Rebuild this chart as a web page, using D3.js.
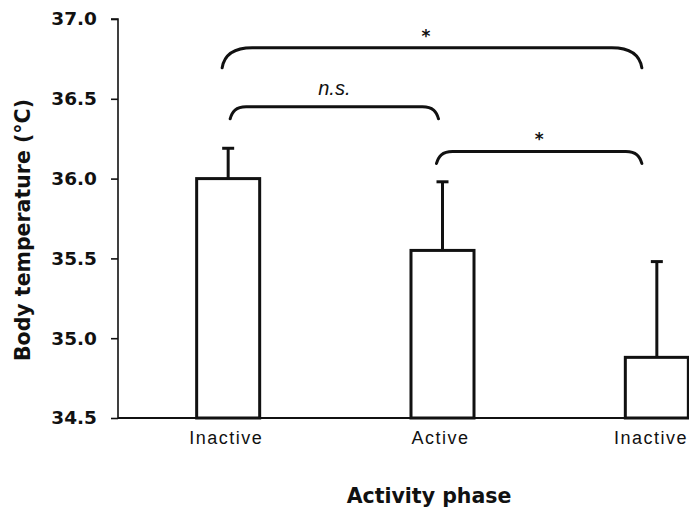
<!DOCTYPE html>
<html>
<head>
<meta charset="utf-8">
<script src="https://cdn.jsdelivr.net/npm/d3@7"></script>
<style>
  html, body { margin: 0; padding: 0; background: #fff; }
  svg { display: block; }
</style>
</head>
<body>
<svg id="chart" width="689" height="517"></svg>
<script>
// Mean body temperature per activity phase, with upward SE bars
const categories = ["Inactive", "Active", "Inactive"];
const means = [36.00, 35.55, 34.88];
const errors = [0.19, 0.43, 0.60];
const yTicks = [34.5, 35.0, 35.5, 36.0, 36.5, 37.0];

// Significance brackets: [from index, to index, line level (°C), label]
const bracketFrom = [0, 0, 1];
const bracketTo = [2, 1, 2];
const bracketLevel = [36.82, 36.45, 36.17];
const bracketLabel = ["*", "n.s.", "*"];

const svg = d3.select("#chart");
const W = 689, H = 517;
const axisX = 118;

const y = d3.scaleLinear().domain([34.5, 37.0]).range([418, 19]);
const x = d3.scaleBand()
  .domain(d3.range(categories.length))
  .range([121, 764])
  .paddingInner(0.706)
  .paddingOuter(0.353);

const bw = x.bandwidth();
const cx = i => x(i) + bw / 2;

// Y axis
const yAxis = svg.append("g")
  .attr("transform", `translate(${axisX},0)`)
  .call(d3.axisLeft(y).tickValues(yTicks).tickFormat(d3.format(".1f")).tickSize(7).tickPadding(14));
yAxis.select(".domain").attr("stroke", "#111").attr("stroke-width", 1.6).attr("d", `M-7,${y(37)}H0V${y(34.5)}`);
yAxis.selectAll(".tick line").attr("stroke", "#111").attr("stroke-width", 1.6);
yAxis.selectAll(".tick text")
  .attr("font-family", "DejaVu Sans, sans-serif")
  .attr("font-weight", "bold")
  .attr("font-size", 18.5)
  .attr("fill", "#111");

// Bars
svg.append("g").selectAll("rect")
  .data(means)
  .join("rect")
  .attr("x", (d, i) => x(i))
  .attr("y", d => y(d))
  .attr("width", bw)
  .attr("height", d => y(34.5) - y(d))
  .attr("fill", "#fff")
  .attr("stroke", "#111")
  .attr("stroke-width", 3);

// Baseline (x axis)
svg.append("line")
  .attr("x1", axisX).attr("x2", W)
  .attr("y1", y(34.5)).attr("y2", y(34.5))
  .attr("stroke", "#111").attr("stroke-width", 2);

// Error bars (upper half only)
const eb = svg.append("g").attr("stroke", "#111").attr("stroke-width", 3).attr("fill", "none");
means.forEach((m, i) => {
  eb.append("line")
    .attr("x1", cx(i)).attr("x2", cx(i))
    .attr("y1", y(m)).attr("y2", y(m + errors[i]));
  eb.append("line")
    .attr("x1", cx(i) - 6).attr("x2", cx(i) + 6)
    .attr("y1", y(m + errors[i])).attr("y2", y(m + errors[i]));
});

// Category labels (kept inside the right edge)
svg.append("g").selectAll("text")
  .data(categories)
  .join("text")
  .attr("x", (d, i) => cx(i) - 2)
  .attr("y", 444)
  .attr("text-anchor", "middle")
  .attr("font-family", "Liberation Sans, Arial, sans-serif")
  .attr("font-size", 18)
  .attr("letter-spacing", 1.5)
  .attr("fill", "#111")
  .text(d => d)
  .each(function () {
    const bb = this.getBBox();
    const over = bb.x + bb.width - (W - 1);
    if (over > 0) d3.select(this).attr("x", +d3.select(this).attr("x") - over);
  });

// Axis titles
svg.append("text")
  .attr("x", 429).attr("y", 503)
  .attr("text-anchor", "middle")
  .attr("font-family", "DejaVu Sans, sans-serif")
  .attr("font-weight", "bold")
  .attr("font-size", 20.5)
  .attr("fill", "#111")
  .text("Activity phase");

svg.append("text")
  .attr("transform", "translate(30,230) rotate(-90)")
  .attr("text-anchor", "middle")
  .attr("font-family", "DejaVu Sans, sans-serif")
  .attr("font-weight", "bold")
  .attr("font-size", 20.5)
  .attr("fill", "#111")
  .text("Body temperature (°C)");

// Significance brackets; ends sit slightly left of the last bar's centre
const bg = svg.append("g");
bracketFrom.forEach((a, k) => {
  const b = bracketTo[k];
  const big = (b - a) > 1;
  const x0 = cx(a) + (a === 0 && !big ? 2 : -6);
  const x1 = cx(b) - (b === categories.length - 1 ? 15 : 4);
  const yt = y(bracketLevel[k]);
  const drop = big ? 20 : 12;
  const r = big ? 30 : 16;
  const p = d3.path();
  p.moveTo(x0, yt + drop);
  p.bezierCurveTo(x0 + 2, yt + drop * 0.4, x0 + r * 0.35, yt, x0 + r, yt);
  p.lineTo(x1 - r, yt);
  p.bezierCurveTo(x1 - r * 0.35, yt, x1 - 2, yt + drop * 0.4, x1, yt + drop);
  bg.append("path")
    .attr("d", p.toString())
    .attr("fill", "none")
    .attr("stroke", "#111")
    .attr("stroke-width", 3)
    .attr("stroke-linecap", "round");

  const isNs = bracketLabel[k] !== "*";
  bg.append("text")
    .attr("x", (x0 + x1) / 2 + (isNs ? 0 : big ? -6 : 0))
    .attr("y", isNs ? yt - 12 : yt - 6)
    .attr("text-anchor", "middle")
    .attr("font-family", isNs ? "Liberation Sans, Arial, sans-serif" : "DejaVu Sans, sans-serif")
    .attr("font-style", isNs ? "italic" : "normal")
    .attr("font-weight", isNs ? "normal" : "bold")
    .attr("font-size", isNs ? 20 : 17)
    .attr("fill", "#111")
    .text(bracketLabel[k]);
});
</script>
</body>
</html>
